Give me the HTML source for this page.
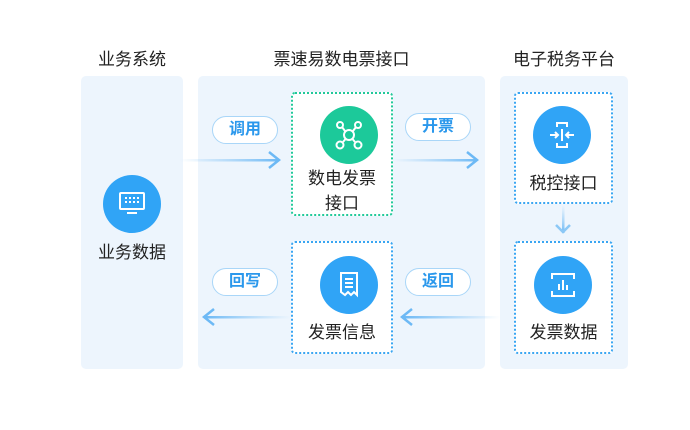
<!DOCTYPE html>
<html><head><meta charset="utf-8"><style>
body{margin:0;width:690px;height:430px;background:#fff;position:relative;overflow:hidden;font-family:"Liberation Sans","Noto Sans CJK SC",sans-serif;color:#222}
.a{position:absolute}
.panel{position:absolute;background:#edf5fd;border-radius:5px}
.title{position:absolute;font-size:17px;text-align:center;line-height:20px;color:#222}
.box{position:absolute;background:#fff;border:2px dotted #3aa6f2;border-radius:4px;box-sizing:border-box}
.circ{position:absolute;width:58px;height:58px;border-radius:50%;background:#30a4f6}
.lbl{position:absolute;font-size:17px;text-align:center;line-height:25px;color:#222}
.pill{position:absolute;width:66px;height:28px;border:1.5px solid #a9d6f8;border-radius:14px;background:#fff;color:#2b98ec;font-size:16px;font-weight:bold;text-align:center;box-sizing:border-box;line-height:25px}
</style></head><body>
<div class="title" style="left:81px;top:50px;width:102px">业务系统</div>
<div class="title" style="left:198px;top:50px;width:287px">票速易数电票接口</div>
<div class="title" style="left:500px;top:50px;width:128px">电子税务平台</div>

<div class="panel" style="left:81px;top:76px;width:102px;height:293px"></div>
<div class="panel" style="left:198px;top:76px;width:287px;height:293px"></div>
<div class="panel" style="left:500px;top:76px;width:128px;height:293px"></div>

<svg class="a" style="left:0;top:0" width="690" height="430">
<defs>
<linearGradient id="gr" x1="0" x2="1"><stop offset="0" stop-color="#8cc8f6" stop-opacity="0"/><stop offset="1" stop-color="#6db9f5"/></linearGradient>
<linearGradient id="gl" x1="1" x2="0"><stop offset="0" stop-color="#8cc8f6" stop-opacity="0"/><stop offset="1" stop-color="#6db9f5"/></linearGradient>
<linearGradient id="gd" x1="0" x2="0" y1="0" y2="1"><stop offset="0" stop-color="#8cc8f6" stop-opacity="0"/><stop offset="1" stop-color="#6db9f5"/></linearGradient>
</defs>
<rect x="180" y="159" width="99" height="2.5" fill="url(#gr)"/>
<polyline points="269,152 279,160 269,168" fill="none" stroke="#6db9f5" stroke-width="2.5"/>
<rect x="393" y="159" width="84" height="2.5" fill="url(#gr)"/>
<polyline points="467,152 477,160 467,168" fill="none" stroke="#6db9f5" stroke-width="2.5"/>
<rect x="404" y="316" width="96" height="2.5" fill="url(#gl)"/>
<polyline points="412,309 402,317 412,325" fill="none" stroke="#6db9f5" stroke-width="2.5"/>
<rect x="206" y="316" width="85" height="2.5" fill="url(#gl)"/>
<polyline points="214,309 204,317 214,325" fill="none" stroke="#6db9f5" stroke-width="2.5"/>
<rect x="562" y="205" width="2.5" height="28" fill="url(#gd)"/>
<polyline points="556,225 563,232 570,225" fill="none" stroke="#8cc8f6" stroke-width="2.5"/>
</svg>

<div class="pill" style="left:212px;top:116px">调用</div>
<div class="pill" style="left:405px;top:113px">开票</div>
<div class="pill" style="left:212px;top:268px">回写</div>
<div class="pill" style="left:405px;top:268px">返回</div>

<div class="circ" style="left:103px;top:175px"></div>
<svg class="a" style="left:118px;top:191px" width="28" height="26"><rect x="2" y="2" width="24" height="16" rx="1" fill="none" stroke="#fff" stroke-width="2"/><g fill="#fff"><rect x="7" y="6" width="2" height="2"/><rect x="11" y="6" width="2" height="2"/><rect x="15" y="6" width="2" height="2"/><rect x="19" y="6" width="2" height="2"/><rect x="7" y="10" width="2" height="2"/><rect x="11" y="10" width="2" height="2"/><rect x="15" y="10" width="2" height="2"/><rect x="19" y="10" width="2" height="2"/><rect x="9" y="21" width="10" height="2"/></g></svg>
<div class="lbl" style="left:81px;top:240px;width:102px">业务数据</div>

<div class="box" style="left:291px;top:92px;width:102px;height:124px;border-color:#22c99a"></div>
<div class="circ" style="left:320px;top:106px;background:#1cc99a"></div>
<svg class="a" style="left:334px;top:120px" width="30" height="30" fill="none" stroke="#fff" stroke-width="2"><circle cx="15" cy="15" r="5"/><circle cx="6" cy="5" r="3"/><circle cx="24" cy="5" r="3"/><circle cx="6" cy="25" r="3.5"/><circle cx="24" cy="25" r="3.5"/><path d="M8 7L11 11M22 7L19 11M9 22L11.5 19M21 22L18.5 19"/></svg>
<div class="lbl" style="left:291px;top:166px;width:102px">数电发票<br>接口</div>

<div class="box" style="left:291px;top:241px;width:102px;height:113px"></div>
<div class="circ" style="left:320px;top:256px"></div>
<svg class="a" style="left:338px;top:271px" width="22" height="28" fill="none" stroke="#fff" stroke-width="2"><path d="M3 2H19V24L16 21L13 24L10 21L7 24L3 21Z"/><path d="M7 8H15M7 12H15M7 16H15"/></svg>
<div class="lbl" style="left:291px;top:320px;width:102px">发票信息</div>

<div class="box" style="left:514px;top:92px;width:99px;height:112px"></div>
<div class="circ" style="left:533px;top:106px"></div>
<svg class="a" style="left:547px;top:120px" width="30" height="30" fill="none" stroke="#fff" stroke-width="2"><path d="M10 7V3H20V7M10 23V27H20V23"/><path d="M15 9V21M3 15H11M8 12L11 15L8 18M27 15H19M22 12L19 15L22 18"/></svg>
<div class="lbl" style="left:514px;top:171px;width:99px">税控接口</div>

<div class="box" style="left:514px;top:241px;width:99px;height:113px"></div>
<div class="circ" style="left:534px;top:256px"></div>
<svg class="a" style="left:549px;top:271px" width="28" height="28" fill="none" stroke="#fff" stroke-width="2"><path d="M3 8V3H25V8M3 20V25H25V20"/><path d="M10 19V13M14 19V9M18 19V14"/></svg>
<div class="lbl" style="left:514px;top:320px;width:99px">发票数据</div>
</body></html>
